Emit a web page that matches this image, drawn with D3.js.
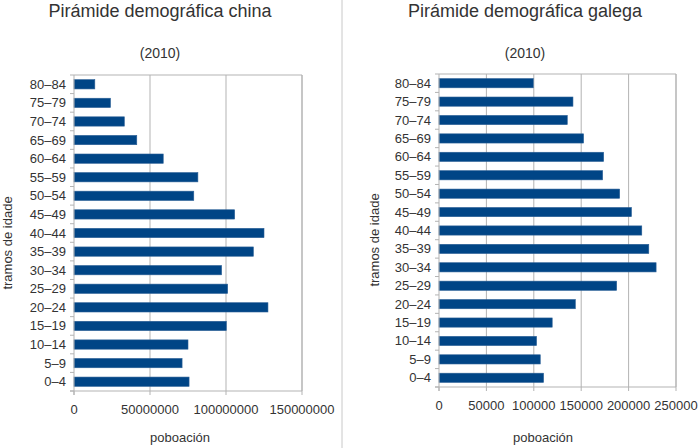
<!DOCTYPE html>
<html lang="gl">
<head>
<meta charset="utf-8">
<title>Pirámide demográfica</title>
<script src="https://d3js.org/d3.v7.min.js"></script>
<style>
  body { margin: 0; background: #fff; }
  text { font-family: "Liberation Sans", "DejaVu Sans", sans-serif; fill: #333; }
</style>
</head>
<body>
<script>
// tramos de idade, de arriba a abaixo
var tramos = ["80–84","75–79","70–74","65–69","60–64","55–59","50–54","45–49","40–44",
              "35–39","30–34","25–29","20–24","15–19","10–14","5–9","0–4"];

// poboación China 2010
var china = [13700000, 24000000, 33100000, 41300000, 58700000, 81500000, 78800000,
             105700000, 125000000, 118000000, 97100000, 101100000, 127600000,
             100200000, 75000000, 71100000, 75700000];

// poboación Galicia 2010
var galiza = [99400, 141300, 135300, 152500, 173700, 172600, 190600, 203000, 213900,
              221300, 229000, 187400, 143800, 119400, 102900, 106800, 110300];

var ticksChina = [0, 50000000, 100000000, 150000000];
var ticksGaliza = [0, 50000, 100000, 150000, 200000, 250000];

var svg = d3.select("body").append("svg")
  .attr("width", 700)
  .attr("height", 448);

// liña separadora
svg.append("line")
  .attr("x1", 342).attr("x2", 342)
  .attr("y1", 0).attr("y2", 448)
  .attr("stroke", "#c8c8c8").attr("stroke-width", 1);

function piramide(cfg) {
  var g = svg.append("g");
  var x = d3.scaleLinear().domain([0, cfg.max]).range([cfg.left, cfg.right]);
  var y = d3.scaleBand().domain(tramos).range([cfg.top, cfg.bottom]).paddingInner(0.5).paddingOuter(0.25);
  var step = y.step();

  // titulos
  g.append("text")
    .attr("x", cfg.cx).attr("y", 17)
    .attr("text-anchor", "middle")
    .attr("font-size", "18px")
    .text(cfg.titulo);
  g.append("text")
    .attr("x", cfg.cx).attr("y", 58)
    .attr("text-anchor", "middle")
    .attr("font-size", "14px")
    .text("(2010)");

  // grella
  g.selectAll("line.grella")
    .data(cfg.ticks.slice(1))
    .enter().append("line")
    .attr("x1", function(d){ return x(d); })
    .attr("x2", function(d){ return x(d); })
    .attr("y1", cfg.top).attr("y2", cfg.bottom)
    .attr("stroke", "#b3b3b3").attr("stroke-width", 1);
  // marco
  g.append("line")
    .attr("x1", cfg.left).attr("x2", cfg.right)
    .attr("y1", cfg.top).attr("y2", cfg.top)
    .attr("stroke", "#b3b3b3");
  g.append("line")
    .attr("x1", cfg.right).attr("x2", cfg.right)
    .attr("y1", cfg.top).attr("y2", cfg.bottom)
    .attr("stroke", "#b3b3b3");

  // barras
  g.selectAll("rect")
    .data(cfg.valores)
    .enter().append("rect")
    .attr("x", x(0))
    .attr("y", function(d, i){ return y(tramos[i]); })
    .attr("width", function(d){ return x(d) - x(0); })
    .attr("height", y.bandwidth())
    .attr("fill", "#004586")
    .attr("stroke", "#2a5f96").attr("stroke-width", 0.6);

  // eixo y
  g.append("line")
    .attr("x1", cfg.left).attr("x2", cfg.left)
    .attr("y1", cfg.top).attr("y2", cfg.bottom + 4)
    .attr("stroke", "#b3b3b3");
  var marcasY = d3.range(tramos.length + 1).map(function(i){ return cfg.top + i * step; });
  g.selectAll("line.my")
    .data(marcasY)
    .enter().append("line")
    .attr("x1", cfg.left - 4).attr("x2", cfg.left)
    .attr("y1", function(d){ return d; }).attr("y2", function(d){ return d; })
    .attr("stroke", "#b3b3b3");
  g.selectAll("text.cat")
    .data(tramos)
    .enter().append("text")
    .attr("x", cfg.left - 8)
    .attr("y", function(d){ return y(d) + y.bandwidth() / 2 + 4.5; })
    .attr("text-anchor", "end")
    .attr("font-size", "13px")
    .text(function(d){ return d; });

  // eixo x
  g.append("line")
    .attr("x1", cfg.left - 4).attr("x2", cfg.right)
    .attr("y1", cfg.bottom).attr("y2", cfg.bottom)
    .attr("stroke", "#b3b3b3");
  g.selectAll("line.mx")
    .data(cfg.ticks)
    .enter().append("line")
    .attr("x1", function(d){ return x(d); })
    .attr("x2", function(d){ return x(d); })
    .attr("y1", cfg.bottom).attr("y2", cfg.bottom + 4)
    .attr("stroke", "#b3b3b3");
  g.selectAll("text.tx")
    .data(cfg.ticks)
    .enter().append("text")
    .attr("x", function(d){ return x(d); })
    .attr("y", cfg.bottom + 23)
    .attr("text-anchor", "middle")
    .attr("font-size", "13px")
    .text(function(d){ return String(d); });

  // titulos dos eixos
  g.append("text")
    .attr("x", cfg.xcx).attr("y", 442)
    .attr("text-anchor", "middle")
    .attr("font-size", "13px")
    .text("poboación");
  g.append("text")
    .attr("transform", "translate(" + cfg.ytx + "," + cfg.ycy + ") rotate(-90)")
    .attr("text-anchor", "middle")
    .attr("font-size", "13px")
    .text("tramos de idade");
}

piramide({
  titulo: "Pirámide demográfica china",
  valores: china, ticks: ticksChina, max: 150000000,
  left: 74, right: 302, top: 75, bottom: 391,
  cx: 160, xcx: 180, ytx: 12, ycy: 243
});

piramide({
  titulo: "Pirámide demográfica galega",
  valores: galiza, ticks: ticksGaliza, max: 250000,
  left: 439, right: 676, top: 74, bottom: 387,
  cx: 525, xcx: 543, ytx: 379, ycy: 240
});
</script>
</body>
</html>
